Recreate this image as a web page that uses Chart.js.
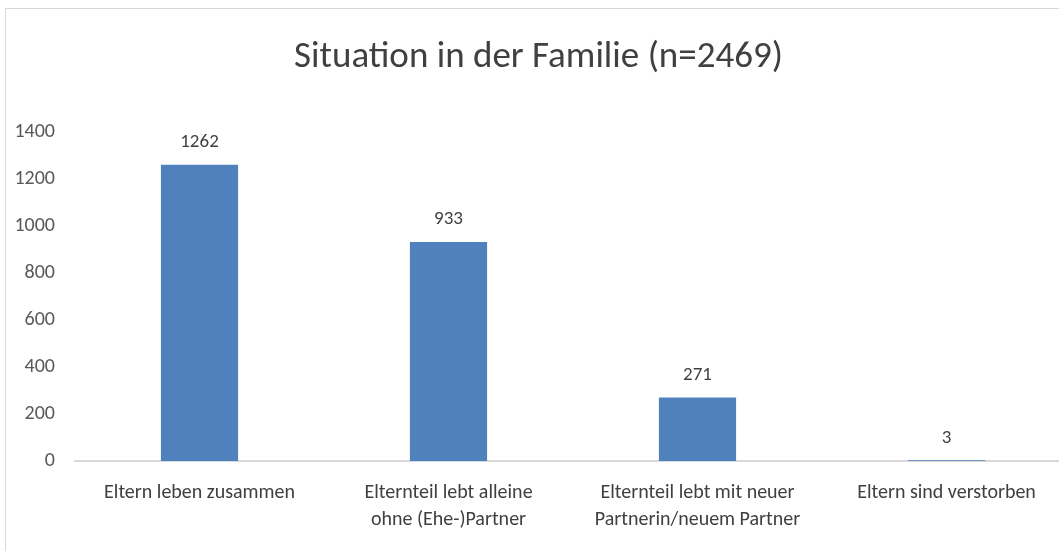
<!DOCTYPE html>
<html>
<head>
<meta charset="utf-8">
<script src="https://cdn.jsdelivr.net/npm/chart.js@4"></script>
<style>
  html, body { margin: 0; padding: 0; background: #fff; overflow: hidden; }
  #box {
    position: absolute; left: 5px; top: 8px;
    width: 1070px; height: 543px;
    border-left: 1px solid #d9d9d9; border-top: 1px solid #d9d9d9;
  }
</style>
</head>
<body>
<div id="box"><canvas id="chart" width="1070" height="543"></canvas></div>
<script>
const categories = [
  "Eltern leben zusammen",
  ["Elternteil lebt alleine", "ohne (Ehe-)Partner"],
  ["Elternteil lebt mit neuer", "Partnerin/neuem Partner"],
  "Eltern sind verstorben",
];
const counts = [1262, 933, 271, 3];
const yTicks = [0, 200, 400, 600, 800, 1000, 1200, 1400];

const FONT = "Carlito, Lato, 'Open Sans', sans-serif";

// value labels above bars
const barLabels = {
  id: "barLabels",
  afterDatasetsDraw(chart) {
    const ctx = chart.ctx;
    const meta = chart.getDatasetMeta(0);
    ctx.save();
    ctx.font = "19px " + FONT;
    ctx.fillStyle = "#404040";
    ctx.textAlign = "center";
    ctx.textBaseline = "bottom";
    meta.data.forEach((bar, i) => {
      ctx.fillText(String(counts[i]), bar.x, bar.y - 13);
    });
    ctx.restore();
  },
};

new Chart(document.getElementById("chart"), {
  type: "bar",
  data: {
    labels: categories,
    datasets: [{
      data: counts,
      backgroundColor: "#4f81bd",
      categoryPercentage: 1,
      barPercentage: 0.31,
    }],
  },
  options: {
    responsive: false,
    animation: false,
    layout: { padding: { left: 0, right: 5, top: 0, bottom: 0 } },
    plugins: {
      legend: { display: false },
      tooltip: { enabled: false },
      title: {
        display: true,
        text: "Situation in der Familie (n=2469)",
        color: "#404040",
        font: { family: FONT, size: 37, weight: "normal" },
        padding: { top: 27, bottom: 52 },
      },
    },
    scales: {
      x: {
        grid: { display: false, drawTicks: false },
        border: { color: "#d9d9d9", width: 2 },
        ticks: {
          color: "#404040",
          font: { family: FONT, size: 20, lineHeight: 1.35 },
          padding: 18,
          maxRotation: 0,
          autoSkip: false,
        },
        afterFit(scale) { scale.height = 91; },
      },
      y: {
        min: 0,
        max: 1400,
        afterBuildTicks(scale) { scale.ticks = yTicks.map(v => ({ value: v })); },
        grid: { display: false, drawTicks: false },
        border: { display: false },
        ticks: {
          color: "#595959",
          font: { family: FONT, size: 20 },
          padding: 20,
          callback: v => String(v),
        },
        afterFit(scale) { scale.width = 69; },
      },
    },
  },
  plugins: [barLabels],
});
</script>
</body>
</html>
